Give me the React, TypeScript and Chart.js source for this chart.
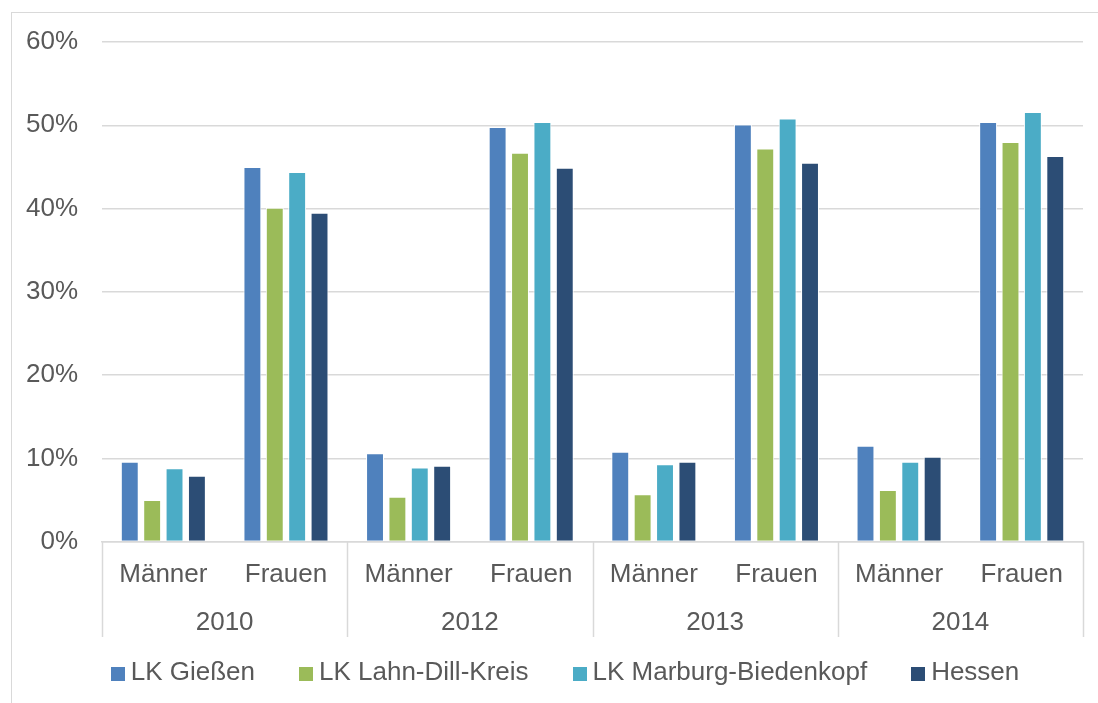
import React, { useEffect, useRef } from "react";
import { Chart, registerables } from "chart.js";

Chart.register(...registerables);

const subLabels = ["Männer", "Frauen", "Männer", "Frauen", "Männer", "Frauen", "Männer", "Frauen"];
const years = ["2010", "2012", "2013", "2014"];
const yTicks = [0, 10, 20, 30, 40, 50, 60];

const seriesNames = ["LK Gießen", "LK Lahn-Dill-Kreis", "LK Marburg-Biedenkopf", "Hessen"];
const giessen = [9.6, 45.0, 10.6, 49.8, 10.8, 50.1, 11.5, 50.4];
const lahnDill = [5.0, 40.1, 5.4, 46.7, 5.7, 47.2, 6.2, 48.0];
const marburg = [8.8, 44.4, 8.9, 50.4, 9.3, 50.8, 9.6, 51.6];
const hessen = [7.9, 39.5, 9.1, 44.9, 9.6, 45.5, 10.2, 46.3];
const colors = ["#4F81BD", "#9BBB59", "#4BACC6", "#2C4D75"];

const FONT = "'Liberation Sans', Arial, sans-serif";
const TEXT = "#595959";
const GRID = "#d9d9d9";
const FONT_SIZE = 26;

const separatorPlugin = {
  id: "groupSeparators",
  afterDraw(chart: any) {
    const x = chart.scales.x;
    const x2 = chart.scales.x2;
    if (!x || !x2) return;
    const half = (x.getPixelForValue(1) - x.getPixelForValue(0)) / 2;
    const ctx = chart.ctx;
    ctx.save();
    ctx.strokeStyle = GRID;
    ctx.lineWidth = 1.5;
    const top = chart.chartArea.bottom;
    const bottom = x2.bottom - 7;
    for (let i = 0; i <= subLabels.length; i += 2) {
      const px = i < subLabels.length ? x.getPixelForValue(i) - half : x.getPixelForValue(subLabels.length - 1) + half;
      ctx.beginPath();
      ctx.moveTo(Math.round(px) + 0.5, top);
      ctx.lineTo(Math.round(px) + 0.5, bottom);
      ctx.stroke();
    }
    ctx.restore();
  },
};

// Legend drawn below the axes, from the datasets' own labels and colours
const legendPlugin = {
  id: "excelLegend",
  afterDraw(chart: any) {
    const ctx = chart.ctx;
    const x2 = chart.scales.x2;
    const box = 14;
    const boxGap = 6;
    const itemGap = 44;
    ctx.save();
    ctx.font = `${FONT_SIZE}px ${FONT}`;
    ctx.textBaseline = "middle";
    ctx.textAlign = "left";
    const items = chart.data.datasets.map((d: any) => ({
      text: d.label,
      color: d.backgroundColor,
      w: ctx.measureText(d.label).width,
    }));
    const total =
      items.reduce((s: number, it: any) => s + box + boxGap + it.w, 0) + itemGap * (items.length - 1);
    let cx = chart.width / 2 + 16 - total / 2;
    const cy = x2.bottom + 29;
    items.forEach((it: any) => {
      ctx.fillStyle = it.color;
      ctx.fillRect(Math.round(cx), Math.round(cy - box / 2 + 1), box, box);
      ctx.fillStyle = TEXT;
      ctx.fillText(it.text, cx + box + boxGap, cy);
      cx += box + boxGap + it.w + itemGap;
    });
    ctx.restore();
  },
};

export default function App() {
  const ref = useRef<HTMLCanvasElement>(null);
  useEffect(() => {
    document.body.style.overflow = "hidden";
    const data = [giessen, lahnDill, marburg, hessen];
    const chart = new Chart(ref.current!, {
      type: "bar",
      data: {
        labels: subLabels,
        datasets: seriesNames.map((name, i) => ({
          label: name,
          data: data[i],
          backgroundColor: colors[i],
          borderColor: "#ffffff",
          borderWidth: 1,
          categoryPercentage: 0.73,
          barPercentage: 0.8,
        })),
      },
      options: {
        animation: false,
        responsive: false,
        maintainAspectRatio: false,
        layout: { padding: { top: 42, left: 2, right: 15, bottom: 59 } },
        plugins: {
          tooltip: { enabled: false },
          legend: { display: false },
        },
        scales: {
          y: {
            min: 0,
            max: 60,
            afterBuildTicks: (axis: any) => {
              axis.ticks = yTicks.map((v) => ({ value: v }));
            },
            grid: { color: GRID, lineWidth: 1.5, drawTicks: false },
            border: { display: false },
            ticks: {
              padding: 24,
              color: TEXT,
              font: { family: FONT, size: FONT_SIZE },
              callback: (v: any) => v + "%",
            },
          },
          x: {
            grid: { display: false },
            border: { display: true, color: GRID, width: 1.5 },
            ticks: {
              padding: 10,
              color: TEXT,
              font: { family: FONT, size: FONT_SIZE },
              maxRotation: 0,
              autoSkip: false,
            },
          },
          x2: {
            type: "category",
            labels: years,
            position: "bottom",
            offset: true,
            grid: { display: false, drawTicks: false },
            border: { display: false },
            ticks: {
              padding: 6,
              color: TEXT,
              font: { family: FONT, size: FONT_SIZE },
              maxRotation: 0,
              autoSkip: false,
            },
          },
        },
      },
      plugins: [separatorPlugin, legendPlugin],
    } as any);
    return () => chart.destroy();
  }, []);

  return (
    <>
      <div
        style={{
          position: "fixed",
          left: 11,
          top: 12,
          width: 1200,
          height: 800,
          border: "1.5px solid #d9d9d9",
          boxSizing: "border-box",
        }}
      />
      <div style={{ position: "fixed", left: 0, top: 0, width: 1098, height: 703 }}>
        <canvas ref={ref} width={1098} height={703} style={{ width: 1098, height: 703, display: "block" }} />
      </div>
    </>
  );
}
